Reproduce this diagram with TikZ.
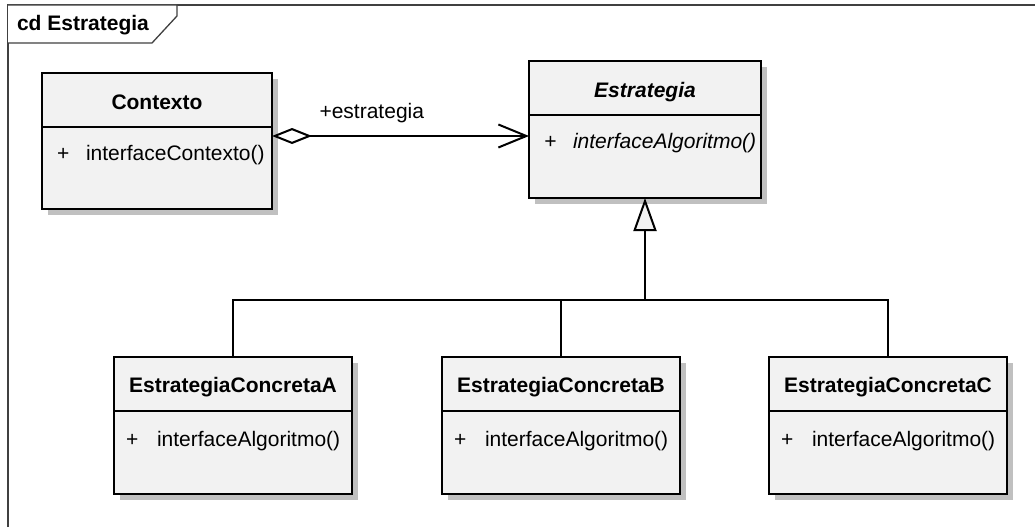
\documentclass[tikz,border=0pt]{standalone}
\usepackage{fontspec}
\setmainfont{Liberation Sans}
\usetikzlibrary{arrows.meta,shadows}
\definecolor{boxfill}{HTML}{F2F2F2}
\definecolor{shadowgray}{HTML}{C0C0C0}
\definecolor{framegray}{HTML}{404040}
\newcommand\umlsize{\fontsize{21}{25}\selectfont}

\begin{document}
\begin{tikzpicture}[x=1pt,y=-1pt,
  every node/.style={inner sep=0pt, outer sep=0pt},
  classbox/.style={draw=black, line width=2pt, fill=boxfill,
    minimum width=238pt, minimum height=137pt,
    drop shadow={shadow xshift=6pt, shadow yshift=-6pt, fill=shadowgray, opacity=1}},
  divline/.style={draw=black, line width=2pt},
  clsname/.style={anchor=base, font=\umlsize\bfseries},
  absname/.style={anchor=base, font=\umlsize\bfseries\itshape},
  member/.style={anchor=base west, font=\umlsize},
  absmember/.style={anchor=base west, font=\umlsize\itshape},
  conn/.style={draw=black, line width=2pt},
  frameline/.style={draw=framegray, line width=1.3pt}
]
\useasboundingbox (0,0) rectangle (1035,527);

% diagram frame and its name tab
\draw[frameline] (8,527) -- (8,5) -- (1035,5);
\draw[frameline, fill=white] (8,5) -- (177,5) -- (177,16) -- (152,43) -- (8,43);
\node[anchor=base west, font=\umlsize\bfseries] (frametitle) at (17,31) {cd Estrategia};

% classes
\node[classbox, minimum width=230pt, minimum height=136pt] (ctx) at (157,141) {};
\node[classbox, minimum width=232pt] (est) at (645,129.5) {};
\node[classbox] (A) at (233,425.5) {};
\node[classbox] (B) at (561,425.5) {};
\node[classbox] (C) at (888,425.5) {};

% compartments
\foreach \n in {ctx,est,A,B,C}
  \draw[divline] ([yshift=-53.5pt]\n.north west) -- ([yshift=-53.5pt]\n.north east);

% names
\node[clsname] (ctxname) at ([yshift=-36pt]ctx.north) {Contexto};
\node[absname] (estname) at ([yshift=-36pt]est.north) {Estrategia};
\node[clsname] (Aname) at ([yshift=-35.5pt]A.north) {EstrategiaConcretaA};
\node[clsname] (Bname) at ([yshift=-35.5pt]B.north) {EstrategiaConcretaB};
\node[clsname] (Cname) at ([yshift=-35.5pt]C.north) {EstrategiaConcretaC};

% operations
\node[member] (ctxvis) at ([xshift=15pt,yshift=-87.5pt]ctx.north west) {+};
\node[member] (ctxop) at ([xshift=44pt,yshift=-87.5pt]ctx.north west) {interfaceContexto()};
\node[absmember] (estvis) at ([xshift=15pt,yshift=-87pt]est.north west) {+};
\node[absmember] (estop) at ([xshift=44pt,yshift=-87pt]est.north west) {interfaceAlgoritmo()};
\foreach \n in {A,B,C}{
  \node[member] (\n vis) at ([xshift=12pt,yshift=-89pt]\n.north west) {+};
  \node[member] (\n op) at ([xshift=43pt,yshift=-89pt]\n.north west) {interfaceAlgoritmo()};
}

% aggregation Contexto -> Estrategia
\draw[conn, {Diamond[length=40pt,width=16pt,fill=white]}-{Straight Barb[length=28pt,width=23pt]}]
  ([yshift=5pt]ctx.east) -- ([yshift=5pt]ctx.east -| est.west)
  node[pos=0.185, anchor=base west, yshift=18pt, font=\umlsize] (role) {+estrategia};

% generalization of the concrete strategies
\coordinate (bus) at (645,300);
\draw[conn] (A.north) |- (bus) -| (C.north);
\draw[conn] (B.north) -- (B.north |- bus);
\draw[conn, line width=2.6pt, -{Triangle[length=33pt,width=23pt,fill=boxfill,line width=2pt]}]
  (bus) -- (est.south);
\end{tikzpicture}
\end{document}
